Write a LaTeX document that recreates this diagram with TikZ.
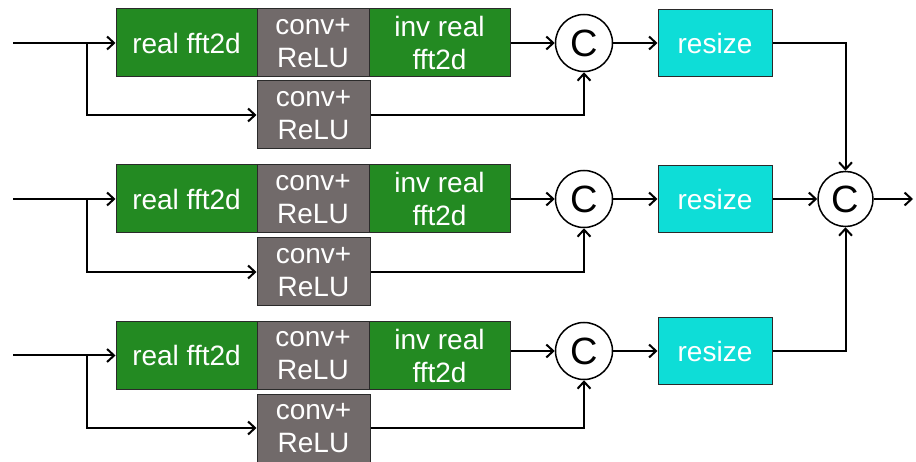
\documentclass[tikz,border=0pt]{standalone}
\usepackage{fontspec}
\setmainfont{Liberation Sans}
\usetikzlibrary{arrows.meta}
\definecolor{fftgreen}{HTML}{238A22}
\definecolor{convgray}{HTML}{716A6A}
\definecolor{resizecyan}{HTML}{0EDDD7}
\definecolor{edgegray}{HTML}{2A2A2A}
\tikzset{
  blk/.style={draw=edgegray, line width=1pt, inner sep=0pt, minimum height=68pt,
    text=white, align=center, font=\fontsize{28}{33}\selectfont},
  fftbox/.style={blk, fill=fftgreen, minimum width=141pt},
  convbox/.style={blk, fill=convgray, minimum width=112pt},
  resizebox/.style={blk, fill=resizecyan, minimum width=114pt, minimum height=67pt},
  catnode/.style={circle, draw=black, line width=1.5pt, fill=white, inner sep=0pt,
    minimum size=57pt, font=\fontsize{38}{38}\selectfont},
  arr/.style={line width=2pt, -{Straight Barb[length=7pt,width=13pt,line width=2pt]}},
}
\begin{document}
\begin{tikzpicture}[x=1pt,y=-1pt]
\useasboundingbox (0,0) rectangle (916,462);

% three parallel branches
\foreach \r/\ty/\ly/\cy in {1/43/115/43, 2/199/272/199, 3/355.5/428/351}{
  \node[fftbox]  (fft\r) at (186.5,\ty) {real fft2d};
  \node[convbox] (cv\r)  at (313,\ty)   {conv+\\ReLU};
  \node[fftbox]  (inv\r) at (439.5,\ty) {inv real\\fft2d};
  \node[convbox, minimum width=113pt] (lc\r) at (313.5,\ly) {conv+\\ReLU};
  \node[catnode] (c\r)   at (584,\cy)   {C};
  \node[resizebox] (rs\r) at (715,\cy)  {resize};
  \coordinate (in\r) at (13,\ty);
  \coordinate (br\r) at (87,\ty);
  \draw[arr] (in\r) -- (fft\r);
  \draw[arr] (br\r) |- (lc\r);
  \draw[arr] (inv\r.east |- c\r) -- (c\r);
  \draw[arr] (lc\r.east) -| (c\r);
  \draw[arr] (c\r) -- (rs\r);
}

% final concatenation
\node[catnode, minimum size=55pt] (cf) at (845.5,199) {C};
\coordinate (out) at (913,199);
\draw[arr] (rs1) -| (cf);
\draw[arr] (rs2) -- (cf);
\draw[arr] (rs3) -| (cf);
\draw[arr] (cf) -- (out);
\end{tikzpicture}
\end{document}
